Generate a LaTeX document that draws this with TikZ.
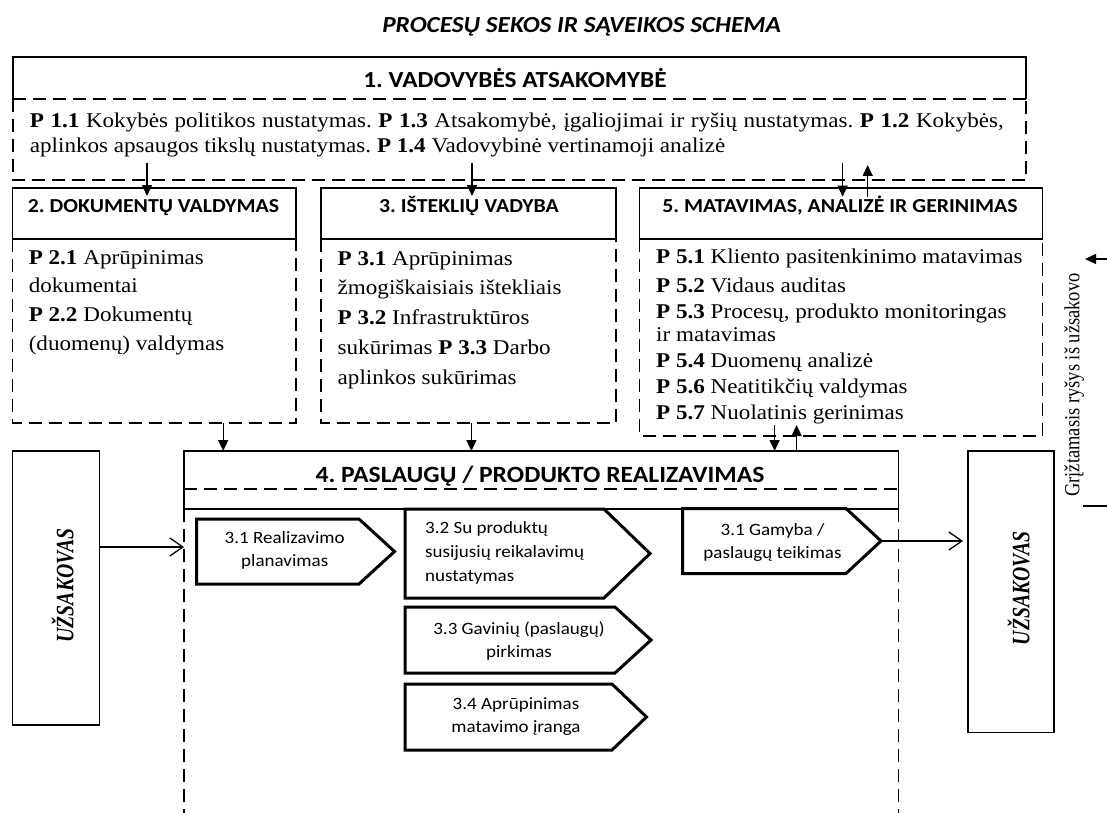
\documentclass[tikz,border=0pt]{standalone}
\usepackage{fontspec}
\setmainfont{Liberation Serif}[FakeStretch=1.1]
\newfontfamily\calfont{Carlito}[FakeStretch=1.1]
\newfontfamily\vertfont{Liberation Serif}[FakeStretch=0.86]
\newfontfamily\custfont{Liberation Serif}[FakeStretch=0.79]
\usetikzlibrary{arrows.meta}
\frenchspacing

\begin{document}
\begin{tikzpicture}[x=1pt,y=-1pt,
  frame/.style={inner sep=0pt, outer sep=0pt, anchor=north west},
  solidbox/.style={frame, draw, line width=1.6pt},
  hidden/.style={frame, draw=none},
  solidline/.style={line width=1.6pt},
  dashline/.style={line width=1.6pt, dash pattern=on 13pt off 7pt},
  chevline/.style={line width=3pt, line join=miter},
  farrow/.style={line width=1.4pt, -{Triangle[length=11pt,width=10pt]}},
  oarrow/.style={line width=1.3pt, -{Straight Barb[length=13pt,width=18pt,line width=1.3pt]}},
  headtext/.style={anchor=base, inner sep=0pt, font=\calfont\bfseries\fontsize{19.8}{22}\selectfont},
  bodytext/.style={anchor=north west, inner sep=0pt, align=left},
  chevtext/.style={inner sep=0pt, font=\calfont\fontsize{17.3}{23}\selectfont},
]
\useasboundingbox (0,0) rectangle (1107,813);

% title
\node[anchor=base, inner sep=0pt, font=\calfont\bfseries\itshape\fontsize{23}{26}\selectfont]
  (title) at (581.6,32.3) {PROCESŲ SEKOS IR SĄVEIKOS SCHEMA};

% 1. management responsibility
\node[hidden, minimum width=1013.3pt, minimum height=42pt] (h1) at (12.7,57) {};
\node[hidden, minimum width=1013.3pt, minimum height=81pt] (b1) at (12.7,99) {};
\draw[solidline] (h1.south west) -- (h1.north west) -- (h1.north east) -- (h1.south east);
\draw[dashline] (h1.south west) -- (h1.south east);
\draw[dashline] (b1.north west) -- (b1.south west) -- (b1.south east) -- (b1.north east);
\node[headtext, font=\calfont\bfseries\fontsize{23}{25}\selectfont] (h1t) at (515,87.3) {1. VADOVYBĖS ATSAKOMYBĖ};
\node[anchor=north west, inner sep=0pt, text width=974pt, align=justify,
      font=\fontsize{21}{25}\selectfont] (b1t) at (29.7,107.7)
  {\rule{0pt}{20pt}\textbf{P 1.1} Kokybės politikos nustatymas. \textbf{P 1.3} Atsakomybė, įgaliojimai ir ryšių nustatymas. \textbf{P 1.2} Kokybės,\linebreak
   aplinkos apsaugos tikslų nustatymas. \textbf{P 1.4} Vadovybinė vertinamoji analizė};

% 2. document control
\node[solidbox, minimum width=283.5pt, minimum height=51pt] (h2) at (12.5,188) {};
\node[hidden, minimum width=283.5pt, minimum height=184pt] (b2) at (12.5,239) {};
\draw[dashline] (b2.north west) -- (b2.south west) -- (b2.south east) -- (b2.north east);
\node[headtext] (h2t) at (153.5,212.3) {2. DOKUMENTŲ VALDYMAS};
\node[bodytext, font=\fontsize{21}{28.7}\selectfont] (b2t) at (28.6,244)
  {\rule{0pt}{20pt}\textbf{P 2.1} Aprūpinimas\\ dokumentai\\ \textbf{P 2.2} Dokumentų\\ (duomenų) valdymas};

% 3. resource management
\node[solidbox, minimum width=295pt, minimum height=51pt] (h3) at (321,188) {};
\node[hidden, minimum width=295pt, minimum height=184pt] (b3) at (321,239) {};
\draw[dashline] (b3.north west) -- (b3.south west) -- (b3.south east) -- (b3.north east);
\node[headtext] (h3t) at (469,212.3) {3. IŠTEKLIŲ VADYBA};
\node[bodytext, font=\fontsize{21}{29.75}\selectfont] (b3t) at (337.5,245)
  {\rule{0pt}{20pt}\textbf{P 3.1} Aprūpinimas\\ žmogiškaisiais ištekliais\\ \textbf{P 3.2} Infrastruktūros\\ sukūrimas \textbf{P 3.3} Darbo\\ aplinkos sukūrimas};

% 5. measurement, analysis and improvement
\node[solidbox, minimum width=403pt, minimum height=51pt] (h5) at (639.5,188) {};
\node[hidden, minimum width=403pt, minimum height=197pt] (b5) at (639.5,239) {};
\draw[dashline] (b5.north west) -- (b5.south west) -- (b5.south east) -- (b5.north east);
\node[headtext] (h5t) at (840,212.3) {5. MATAVIMAS, ANALIZĖ IR GERINIMAS};
\node[bodytext, font=\fontsize{21}{26}\selectfont] (b5t) at (656,243.3)
  {\rule{0pt}{20pt}\textbf{P 5.1} Kliento pasitenkinimo matavimas\\[3.4pt]
   \textbf{P 5.2} Vidaus auditas\\[-0.4pt]
   \textbf{P 5.3} Procesų, produkto monitoringas\\[-2.6pt]
   ir matavimas\\[-0.4pt]
   \textbf{P 5.4} Duomenų analizė\\
   \textbf{P 5.6} Neatitikčių valdymas\\
   \textbf{P 5.7} Nuolatinis gerinimas};

% 4. service / product realisation
\node[solidbox, minimum width=714.5pt, minimum height=58pt] (h4) at (184,451) {};
\node[hidden, minimum width=714.5pt, minimum height=304pt] (b4) at (184,509) {};
\draw[dashline] ([yshift=20pt]h4.south west) -- ([yshift=20pt]h4.south east);
\draw[dashline] (b4.north west) -- (b4.south west);
\draw[dashline] (b4.north east) -- (b4.south east);
\node[headtext, font=\calfont\bfseries\fontsize{23.3}{26}\selectfont] (h4t) at (540,482.5)
  {4. PASLAUGŲ / PRODUKTO REALIZAVIMAS};

% customers
\node[solidbox, minimum width=87pt, minimum height=274pt] (custL) at (12.5,451) {};
\node[solidbox, minimum width=85.7pt, minimum height=281.5pt] (custR) at (968,451) {};
\node[rotate=90, anchor=base, inner sep=0pt, font=\custfont\bfseries\itshape\fontsize{25}{28}\selectfont]
  (custLt) at (73.3,585.5) {UŽSAKOVAS};
\node[rotate=90, anchor=base, inner sep=0pt, font=\custfont\bfseries\itshape\fontsize{25}{28}\selectfont]
  (custRt) at (1029.3,588.3) {UŽSAKOVAS};

% process chevrons
\node[hidden, minimum width=198pt, minimum height=65pt] (c31) at (196.5,519) {};
\draw[chevline] (c31.north west) -- ([xshift=-35.5pt]c31.north east) -- (c31.east)
  -- ([xshift=-35.5pt]c31.south east) -- (c31.south west) -- cycle;
\node[hidden, minimum width=245pt, minimum height=89pt] (c32) at (405,509) {};
\draw[chevline] (c32.north west) -- ([xshift=-46pt]c32.north east) -- (c32.east)
  -- ([xshift=-46pt]c32.south east) -- (c32.south west) -- cycle;
\node[hidden, minimum width=246pt, minimum height=66pt] (c33) at (405,607) {};
\draw[chevline] (c33.north west) -- ([xshift=-36pt]c33.north east) -- (c33.east)
  -- ([xshift=-36pt]c33.south east) -- (c33.south west) -- cycle;
\node[hidden, minimum width=241.5pt, minimum height=66pt] (c34) at (405,684) {};
\draw[chevline] (c34.north west) -- ([xshift=-34.5pt]c34.north east) -- (c34.east)
  -- ([xshift=-34.5pt]c34.south east) -- (c34.south west) -- cycle;
\node[hidden, minimum width=198.5pt, minimum height=65pt] (gam) at (682.5,508.5) {};
\draw[chevline] (gam.north west) -- ([xshift=-35pt]gam.north east) -- (gam.east)
  -- ([xshift=-35pt]gam.south east) -- (gam.south west) -- cycle;

\node[chevtext, anchor=north, align=center] (c31t) at (284.7,527)
  {\rule{0pt}{16pt}3.1 Realizavimo\\ planavimas};
\node[chevtext, anchor=north west, align=left, font=\calfont\fontsize{17.3}{24.3}\selectfont] (c32t) at (425,517)
  {\rule{0pt}{16pt}3.2 Su produktų\\ susijusių reikalavimų\\ nustatymas};
\node[chevtext, anchor=north, align=center] (c33t) at (519,618)
  {\rule{0pt}{16pt}3.3 Gavinių (paslaugų)\\ pirkimas};
\node[chevtext, anchor=north, align=center] (c34t) at (516,693.3)
  {\rule{0pt}{16pt}3.4 Aprūpinimas\\ matavimo įranga};
\node[chevtext, anchor=north, align=center] (gamt) at (772.5,519.7)
  {\rule{0pt}{16pt}3.1 Gamyba /\\ paslaugų teikimas};

% links between the blocks
\draw[farrow] ([xshift=134.5pt,yshift=25pt]h2.north west) -- ([xshift=134.5pt,yshift=-8pt]h2.north west);
\draw[farrow] ([xshift=151pt,yshift=25pt]h3.north west) -- ([xshift=151pt,yshift=-8pt]h3.north west);
\draw[farrow] ([xshift=203.1pt,yshift=25pt]h5.north west) -- ([xshift=203.1pt,yshift=-8.7pt]h5.north west);
\draw[farrow] ([xshift=228.2pt,yshift=-8.7pt]h5.north west) -- ([xshift=228.2pt,yshift=23pt]h5.north west);
\draw[farrow] ([xshift=210.7pt]b2.south west) -- ([xshift=39.2pt]h4.north west);
\draw[farrow] ([xshift=150.4pt]b3.south west) -- ([xshift=287.4pt]h4.north west);
\draw[farrow] ([xshift=135.1pt,yshift=11pt]b5.south west) -- ([xshift=590.6pt]h4.north west);
\draw[farrow] ([xshift=612.6pt]h4.north west) -- ([xshift=157.1pt,yshift=11pt]b5.south west);

\draw[oarrow] ([yshift=41pt]custL.east) coordinate (ua) -- (ua -| b4.west);
\draw[oarrow, shorten >=5pt] (gam.east) -- (gam.east -| custR.west);

% feedback from the customer
\node[rotate=90, anchor=base, inner sep=0pt, font=\vertfont\fontsize{21.5}{24}\selectfont]
  (fbt) at (1079.3,385) {Grįžtamasis ryšys iš užsakovo};
\coordinate (fbin) at (1107,259);
\coordinate (fbtip) at (1085,259);
\coordinate (fbout) at (1107,506);
\coordinate (fbend) at (1083,506);
\draw[farrow] (fbin) -- (fbtip);
\draw[solidline] (fbout) -- (fbend);
\end{tikzpicture}
\end{document}
